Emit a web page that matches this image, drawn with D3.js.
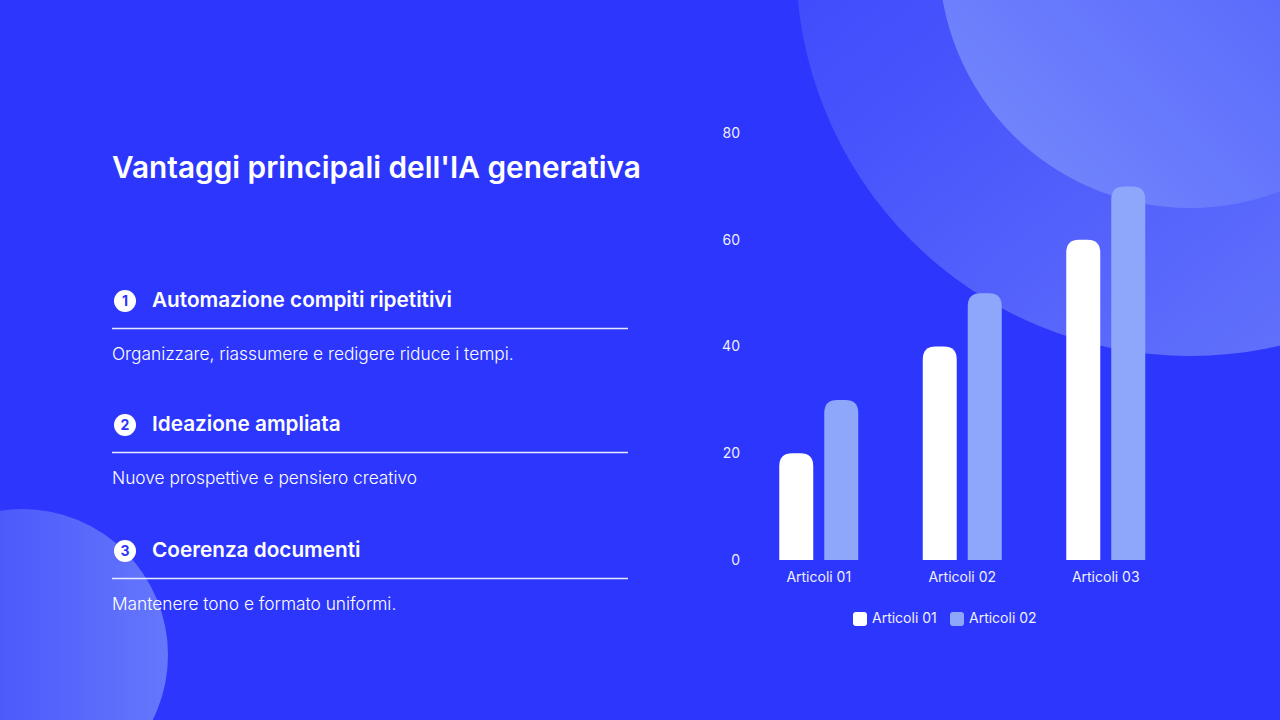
<!DOCTYPE html>
<html>
<head>
<meta charset="utf-8">
<script src="https://cdn.jsdelivr.net/npm/d3@7"></script>
<style>
  html, body { margin: 0; padding: 0; background: #2d36fd; }
  svg { display: block; font-family: "Inter", "Open Sans", sans-serif; }
</style>
</head>
<body>
<svg id="chart" width="1280" height="720"></svg>
<script>
// chart data
const categories = ['Articoli 01', 'Articoli 02', 'Articoli 03'];
const seriesNames = ['Articoli 01', 'Articoli 02'];
const seriesA = [20, 40, 60];
const seriesB = [30, 50, 70];
const yTicks = [0, 20, 40, 60, 80];

// text content
const title = "Vantaggi principali dell'IA generativa";
const headings = ['Automazione compiti ripetitivi', 'Ideazione ampliata', 'Coerenza documenti'];
const descriptions = [
    'Organizzare, riassumere e redigere riduce i tempi.',
    'Nuove prospettive e pensiero creativo',
    'Mantenere tono e formato uniformi.'
];

const BG = '#2d36fd';
const COLORS = ['#ffffff', '#8fa7fa'];
const TEXT = '#ffffff';

const svg = d3.select('#chart');
const defs = svg.append('defs');

function linGrad(id, x1, y1, x2, y2, stops) {
    const g = defs.append('linearGradient').attr('id', id)
        .attr('x1', x1).attr('y1', y1).attr('x2', x2).attr('y2', y2);
    stops.forEach(s => g.append('stop').attr('offset', s[0]).attr('stop-color', s[1]));
}
linGrad('gOuter', '0', '0', '0.8', '1', [[0, '#323cfc'], [0.5, '#4855fc'], [1, '#6677fb']]);
linGrad('gInner', '0', '1', '1', '0', [[0, '#788cfc'], [1, '#4350fc']]);
linGrad('gLeft', '0', '0', '1', '0', [[0, '#3a45fc'], [1, '#6577fb']]);

svg.append('rect').attr('width', 1280).attr('height', 720).attr('fill', BG);

// decorative circles
svg.append('circle').attr('cx', 1190).attr('cy', -38).attr('r', 394).attr('fill', 'url(#gOuter)');
svg.append('circle').attr('cx', 1190).attr('cy', -43).attr('r', 251).attr('fill', 'url(#gInner)');
svg.append('circle').attr('cx', 22).attr('cy', 655).attr('r', 146).attr('fill', 'url(#gLeft)');

// fit a font size so the first text of a style reaches a given width
function fitSize(sample, weight, width, guess) {
    const t = svg.append('text').attr('font-size', guess).attr('font-weight', weight).text(sample);
    const w = t.node().getComputedTextLength();
    t.remove();
    return guess * width / w;
}

const titleSize = fitSize(title, 600, 529, 28);
const headSize = fitSize(headings[0], 600, 300, 19);
const descSize = fitSize(descriptions[0], 300, 402, 16);

svg.append('text')
    .attr('x', 112).attr('y', 178)
    .attr('font-size', titleSize).attr('font-weight', 600)
    .attr('fill', TEXT).text(title);

// list of points
const itemTop = [300, 424, 550];
const items = svg.selectAll('.item').data(headings).join('g')
    .attr('class', 'item')
    .attr('transform', (d, i) => `translate(0,${itemTop[i]})`);

items.append('circle').attr('cx', 125).attr('cy', 1).attr('r', 11).attr('fill', '#ffffff');
items.append('text')
    .attr('x', 125).attr('y', 6)
    .attr('text-anchor', 'middle')
    .attr('font-size', 14).attr('font-weight', 700)
    .attr('fill', BG)
    .text((d, i) => i + 1);
items.append('text')
    .attr('x', 152).attr('y', 7)
    .attr('font-size', headSize).attr('font-weight', 600)
    .attr('fill', TEXT).text(d => d);
items.append('line')
    .attr('x1', 112).attr('x2', 628).attr('y1', 28.5).attr('y2', 28.5)
    .attr('stroke', '#e6e9ff').attr('stroke-width', 1.5);
items.append('text')
    .attr('x', 112).attr('y', 60)
    .attr('font-size', descSize).attr('font-weight', 300)
    .attr('fill', TEXT).text((d, i) => descriptions[i]);

// bar chart
const x0 = d3.scaleBand().domain(categories).range([747, 1177.5]).padding(0);
const x1 = d3.scaleBand().domain(seriesNames)
    .range([x0.bandwidth() / 2 - 39.5, x0.bandwidth() / 2 + 39.5])
    .paddingInner(0.2444).paddingOuter(0);
const y = d3.scaleLinear().domain([0, 80]).range([560, 133]);

const yAxis = svg.append('g')
    .attr('transform', 'translate(740,0)')
    .call(d3.axisLeft(y).tickValues(yTicks).tickSize(0).tickPadding(0));
yAxis.select('.domain').remove();
yAxis.selectAll('text')
    .attr('fill', '#eef0ff').attr('font-size', 14)
    .attr('font-family', '"Inter", "Open Sans", sans-serif');

const xAxis = svg.append('g')
    .attr('transform', 'translate(0,560)')
    .call(d3.axisBottom(x0).tickSize(0).tickPadding(12));
xAxis.select('.domain').remove();
xAxis.selectAll('text')
    .attr('fill', '#eef0ff').attr('font-size', 14)
    .attr('font-family', '"Inter", "Open Sans", sans-serif');

function topRounded(x, yTop, w, yBase, r) {
    r = Math.min(r, w / 2, yBase - yTop);
    return `M${x},${yBase}V${yTop + r}Q${x},${yTop} ${x + r},${yTop}` +
        `H${x + w - r}Q${x + w},${yTop} ${x + w},${yTop + r}V${yBase}Z`;
}

const seriesData = [seriesA, seriesB];
const groups = svg.selectAll('.bar-group').data(categories).join('g')
    .attr('class', 'bar-group')
    .attr('transform', d => `translate(${x0(d)},0)`);

groups.selectAll('path')
    .data((c, i) => seriesNames.map((s, k) => ({ s, k, v: seriesData[k][i] })))
    .join('path')
    .attr('fill', d => COLORS[d.k])
    .attr('d', d => topRounded(x1(d.s), y(d.v), x1.bandwidth(), y(0), 13));

// legend
const legend = svg.append('g').attr('transform', 'translate(853,612)');
const legendX = [0, 97];
const li = legend.selectAll('g').data(seriesNames).join('g')
    .attr('transform', (d, i) => `translate(${legendX[i]},0)`);
li.append('rect').attr('width', 14).attr('height', 14).attr('rx', 3)
    .attr('fill', (d, i) => COLORS[i]);
li.append('text').attr('x', 19).attr('y', 11)
    .attr('font-size', 14).attr('fill', '#eef0ff').text(d => d);
</script>
</body>
</html>
